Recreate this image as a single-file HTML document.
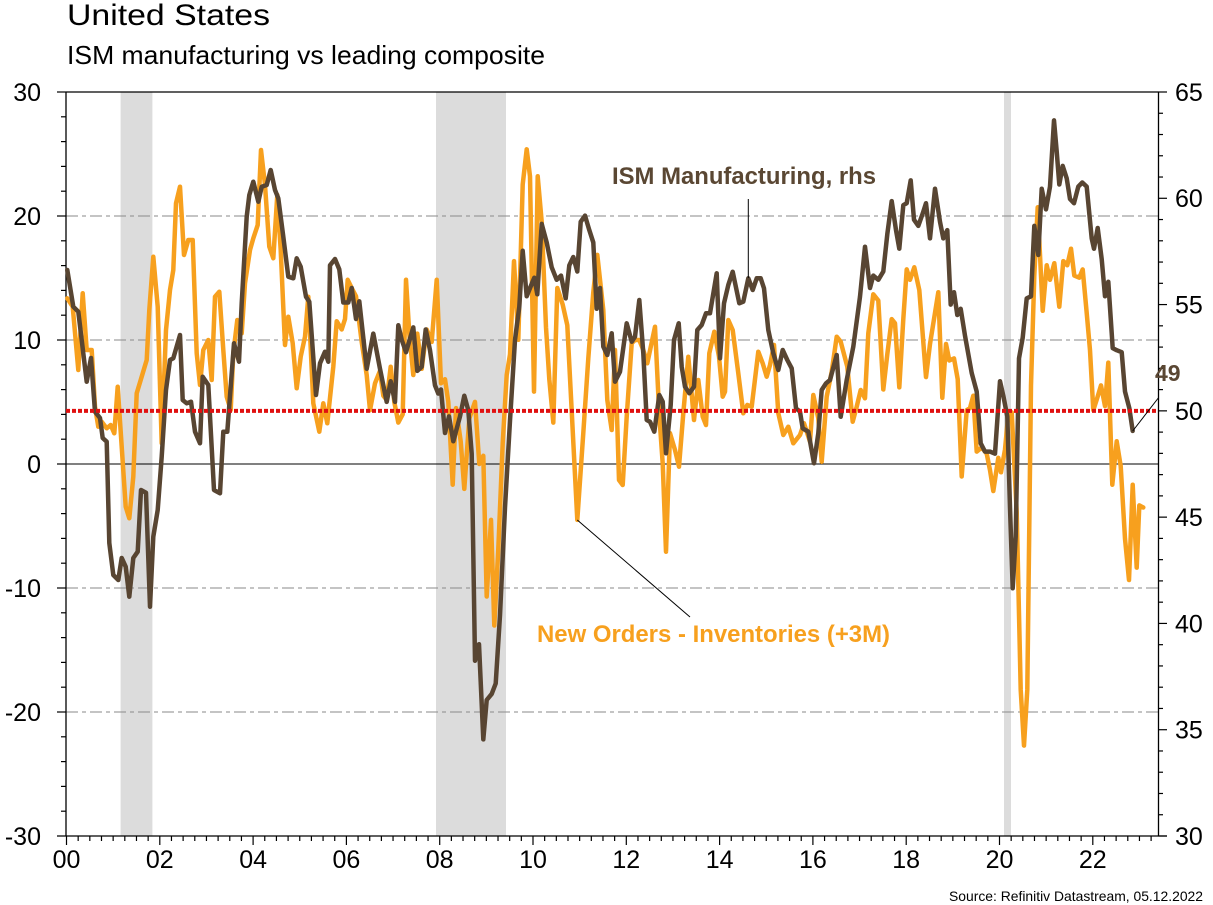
<!DOCTYPE html>
<html>
<head>
<meta charset="utf-8">
<style>
html,body{margin:0;padding:0;background:#fff;}
svg{display:block;}
text{font-family:"Liberation Sans",Arial,sans-serif;}
</style>
</head>
<body>
<svg width="1213" height="905" viewBox="0 0 1213 905" xmlns="http://www.w3.org/2000/svg">
<rect x="0" y="0" width="1213" height="905" fill="#fff"/>
<text x="67" y="25" font-size="30" fill="#000" textLength="203" lengthAdjust="spacingAndGlyphs">United States</text>
<text x="67" y="64" font-size="26" fill="#000" textLength="478" lengthAdjust="spacingAndGlyphs">ISM manufacturing vs leading composite</text>

<!-- recession bands -->
<rect x="120.6" y="92" width="31.8" height="744" fill="#dcdcdc"/>
<rect x="436" y="92" width="70" height="744" fill="#dcdcdc"/>
<rect x="1004" y="92" width="7" height="744" fill="#dcdcdc"/>

<!-- gridlines -->
<g stroke="#8a8a8a" stroke-width="1" stroke-dasharray="12,4,4,4" fill="none">
<line x1="66" y1="216" x2="1158" y2="216"/>
<line x1="66" y1="340" x2="1158" y2="340"/>
<line x1="66" y1="588" x2="1158" y2="588"/>
<line x1="66" y1="712" x2="1158" y2="712"/>
</g>
<line x1="66" y1="464" x2="1158" y2="464" stroke="#000" stroke-width="1"/>

<!-- axes frame -->
<g stroke="#000" stroke-width="1.3" fill="none">
<line x1="66" y1="92" x2="1158.5" y2="92"/>
<line x1="66" y1="92" x2="66" y2="836"/>
<line x1="1158.5" y1="92" x2="1158.5" y2="836"/>
<line x1="57" y1="836" x2="1167" y2="836"/>
</g>

<!-- left ticks -->
<g stroke="#000" stroke-width="1.2">
<line x1="57" y1="92" x2="66" y2="92"/><line x1="61" y1="116.8" x2="66" y2="116.8"/><line x1="61" y1="141.6" x2="66" y2="141.6"/><line x1="61" y1="166.4" x2="66" y2="166.4"/><line x1="61" y1="191.2" x2="66" y2="191.2"/>
<line x1="57" y1="216" x2="66" y2="216"/><line x1="61" y1="240.8" x2="66" y2="240.8"/><line x1="61" y1="265.6" x2="66" y2="265.6"/><line x1="61" y1="290.4" x2="66" y2="290.4"/><line x1="61" y1="315.2" x2="66" y2="315.2"/>
<line x1="57" y1="340" x2="66" y2="340"/><line x1="61" y1="364.8" x2="66" y2="364.8"/><line x1="61" y1="389.6" x2="66" y2="389.6"/><line x1="61" y1="414.4" x2="66" y2="414.4"/><line x1="61" y1="439.2" x2="66" y2="439.2"/>
<line x1="57" y1="464" x2="66" y2="464"/><line x1="61" y1="488.8" x2="66" y2="488.8"/><line x1="61" y1="513.6" x2="66" y2="513.6"/><line x1="61" y1="538.4" x2="66" y2="538.4"/><line x1="61" y1="563.2" x2="66" y2="563.2"/>
<line x1="57" y1="588" x2="66" y2="588"/><line x1="61" y1="612.8" x2="66" y2="612.8"/><line x1="61" y1="637.6" x2="66" y2="637.6"/><line x1="61" y1="662.4" x2="66" y2="662.4"/><line x1="61" y1="687.2" x2="66" y2="687.2"/>
<line x1="57" y1="712" x2="66" y2="712"/><line x1="61" y1="736.8" x2="66" y2="736.8"/><line x1="61" y1="761.6" x2="66" y2="761.6"/><line x1="61" y1="786.4" x2="66" y2="786.4"/><line x1="61" y1="811.2" x2="66" y2="811.2"/>
</g>

<!-- right ticks -->
<g stroke="#000" stroke-width="1.2" id="rt"></g>

<!-- bottom ticks -->
<g stroke="#000" stroke-width="1.2" id="bt"></g>

<!-- left labels -->
<g font-size="25" fill="#000" text-anchor="end">
<text x="41" y="101">30</text>
<text x="41" y="225">20</text>
<text x="41" y="349">10</text>
<text x="41" y="473">0</text>
<text x="41" y="597">-10</text>
<text x="41" y="721">-20</text>
<text x="41" y="845">-30</text>
</g>
<!-- right labels -->
<g font-size="25" fill="#000" text-anchor="start">
<text x="1175" y="101">65</text>
<text x="1175" y="207">60</text>
<text x="1175" y="313.6">55</text>
<text x="1175" y="420">50</text>
<text x="1175" y="526">45</text>
<text x="1175" y="632.4">40</text>
<text x="1175" y="738.7">35</text>
<text x="1175" y="845">30</text>
</g>
<!-- bottom labels -->
<g font-size="25" fill="#000" text-anchor="middle">
<text x="66.5" y="868">00</text>
<text x="159.8" y="868">02</text>
<text x="253.1" y="868">04</text>
<text x="346.4" y="868">06</text>
<text x="439.7" y="868">08</text>
<text x="533" y="868">10</text>
<text x="626.3" y="868">12</text>
<text x="719.6" y="868">14</text>
<text x="812.9" y="868">16</text>
<text x="906.2" y="868">18</text>
<text x="999.5" y="868">20</text>
<text x="1092.8" y="868">22</text>
</g>

<!-- orange series -->
<polyline fill="none" stroke="#f7a01e" stroke-width="4.5" stroke-linejoin="round" stroke-linecap="round" points="67.3,298.3 72.7,306.7 78.3,370 82.7,293.3 86.7,350 91.7,350 95,406.7 98.3,426.7 101.7,421.7 106.7,428.3 110.7,425 114.3,433.3 117.7,386.7 121.7,446.7 125.7,506.7 129.3,518.3 133.3,476.7 136.7,393.3 141.7,376.7 146.7,360 149.3,310 153.3,256.7 157.7,306.7 161.7,443.3 166,330 170,290 173.3,270 176,203.3 180,186.7 184,255 188.3,240 192.7,240 196.7,353.3 200,385 203.3,350 208.3,340 211.7,380 215,296.7 219.3,291.7 223.3,350 226.7,396.7 230.7,410 233.3,353.3 237.3,320 241.7,333.3 245,283.3 250,250 253.3,238.3 257.7,225 261,150 265,185 269.3,246.7 273.3,258.3 277.3,195 280.7,250 285,345 288.3,316.7 292.7,343.3 296.7,388.3 300.7,356.7 305,336.7 308.3,296.7 313.3,403.3 319.3,431.7 323.3,403.3 327.3,423.3 333.3,366.7 336.7,321.2 341.7,329.5 345,319.1 347.7,279.8 351.7,288 356,296.3 361.7,341.9 366.7,375 370,410.2 375,383.3 380,370.9 383.3,395.7 386.7,399.9 390.7,366.7 394.3,401.9 398.3,422.6 402.7,414.3 406,279.8 409.3,333.6 413.3,375 417.3,333.6 421.7,368.8 426.7,329.5 431.7,341.9 436.7,279.8 441,383.3 445,379.2 448.3,401.9 452.7,484.7 456,408.1 460.7,441.3 464.3,488.9 469.3,418.5 475,401.9 479.3,464 483.3,455.8 486.7,596.5 491,519.9 494.3,625.5 498.3,548.9 502.7,443.3 506.7,375 510,354.3 514,261.1 518.3,339.8 522.7,184.5 526.7,149.3 530,176.3 534,391.6 537.7,176.3 541.7,221.8 546,327.4 549.3,379.2 553.3,422.6 557.3,288 562.7,304.6 567.3,325.3 577.3,519.9 583.3,433 588.3,358.4 593.3,292.2 597.3,254.9 603.3,310 607.3,400 611.7,430 615,350 619,480 622.7,485 626.7,416.7 631.7,343.3 635,340 639.3,340 643.3,350 647.3,363.3 655,326.7 659.3,415 662.7,463.3 666,551.7 670,433.3 675,450 679,466.7 683.3,413.3 688.3,356.7 694,420 698.3,380 702.7,416.7 706,425 709.3,353.3 714.3,331.7 719,356.7 722.7,396.7 725,391.7 728.3,320 732.7,330 738.3,373.3 743.3,413.3 747.3,405 751.7,406.7 758.3,351.7 762.7,363.3 766.7,376.7 770,365 774,345 778.3,413.3 783.3,435 788.3,426.7 793.3,443.3 800,435 804,423.3 810,441.7 813.3,395 818.3,418.3 821.7,461.7 826.7,396.7 831.7,371.7 836.7,336.7 840.7,341.7 847.3,366.7 852.7,421.7 856.7,406.7 860.7,390 865,398.3 868.3,333.3 873.3,294.3 878.3,300.5 883.3,389.5 887.3,354.3 891.7,319.1 895,323.3 899.3,387.4 903.3,319.1 906.7,269.4 910,279.8 914.3,267.3 919.3,290.1 926,377.1 930,344 935,312.9 938.3,292.2 942.3,397.8 946,344 949.3,360.5 954,358.4 957.7,379.2 961.7,476.5 966.7,410.2 970,408.1 973.3,395.7 976.7,451.6 981.7,447.5 986.7,453.7 990,470.2 993.3,491 998.3,457.8 1001,472.3 1005,449.5 1008.3,414.3 1011.7,412.3 1016.7,511.7 1020.7,689.7 1024,745.6 1027.3,689.7 1031,385.4 1034.3,275.6 1037.7,207.3 1040,254.9 1042.7,310.8 1046.7,265.3 1050,279.8 1054.3,263.2 1059.3,306.7 1063.3,261.1 1067.3,265.3 1071,248.7 1074.3,275.6 1079.3,277.7 1082.7,269.4 1086.7,312.9 1090,350.2 1093.3,410.2 1097.3,397.8 1101,385.4 1105,406.1 1108.3,362.6 1112.3,484.7 1116.7,441.3 1120.7,466.1 1125,538.6 1129,580 1132.7,484.7 1136.7,567.6 1139.3,505.4 1143.3,507.5"/>

<!-- dark series -->
<polyline fill="none" stroke="#584532" stroke-width="4.5" stroke-linejoin="round" stroke-linecap="round" points="67.3,270 73.3,306.7 78.3,311.7 86.7,381.7 91,358 95,411.7 100,418 102.7,438 106.7,441.7 109.3,543 113.3,575 118.3,580 121.7,558 125.7,566.7 129.3,596.7 133.3,558 137.7,551.7 141,490 146,492.7 150,606.7 153.3,536.7 157.7,510 161.7,456.7 166,390 170,360 173.3,358.3 180,335 182.7,400 186.7,403.3 191,401.7 195,431.7 200,443.3 202.7,376.7 208.3,385 214,490 220,493.3 223.3,431.7 227.3,431.7 234,343.3 239,361.7 241.7,303.3 246.7,216.7 249.3,195 253.3,181.7 258.3,201.7 261.7,186.7 266.7,185 270.7,170 275,190 278.3,198.3 283.3,236.7 288.3,276.7 293.3,278.3 296.7,258.3 300.7,266.7 306,296.7 309.3,301.7 316,395 320,363.3 325,351.7 328.3,361.7 330,265.3 335,259 339.3,269.4 343.3,302.5 348.3,302.5 351.7,288 356,319 359.3,301.3 366.7,368.8 373.3,333.6 380,368.8 386.7,401.9 390.7,381.2 395,401.9 398.3,325.3 401.7,339.8 406,352.2 413.3,327.4 417.3,370.9 421.7,366.7 425.7,329.5 430,350.2 435,385.4 438.3,393.6 441,389.5 445,433 449,416.4 453.3,441.3 460,416.4 464.3,395.7 468.3,410.2 471.7,453.7 475,660.7 479,644.2 483.3,739.4 486.7,700 491.7,693.9 495.7,683.5 500,615.2 505,507.5 510,420.6 515,339.8 519.3,306.7 522.7,250.8 526.7,296.3 531.7,283.9 534.3,277.7 537.3,294.3 541.7,223.9 546.7,242.5 551.7,267.3 556.7,279.8 561,275.6 565.7,298.4 569.3,265.3 573.3,257 577.3,271.5 580.7,221.8 585,215.6 589.3,230.1 593.3,242.5 596.7,308.8 600,288 603.3,346.7 607.3,355 611.7,333.3 615,381.7 620,371.7 626.7,323.3 631.7,341.7 635,336.7 639.3,300 643.3,353.3 646.7,420 650,421.7 654.3,431.7 659.3,395 662.7,401.7 666,453.3 670.7,405 674,340 678.7,323.3 681.7,366.7 685,386.7 689.3,393.3 694,386.7 697.3,330 701.7,325 706,313.3 710,313.3 716.7,273.3 720,358.3 724,303.3 728.3,285 732.7,271.7 739.3,303.3 743.3,301.7 748.3,278.3 752.7,290 756.7,278.3 760.7,278.3 764,288.3 768.3,330 773.3,353.3 778.3,370 782.7,350 787.3,360 791.7,368.3 796,408.3 800,411.7 802.7,428.3 808.3,431.7 814,463.3 818.3,433.3 821.7,390 826,383.3 830,380 836.7,355 840.7,416.7 846.7,380 853.3,346.7 860,296.7 865,246.7 870,288 873.3,275.6 878.3,279.8 883.3,271.5 887.3,234.2 891.7,201.1 896,230.1 899.3,248.7 903.3,205.2 906.7,203.2 910.7,180.4 914,219.7 918.3,225.9 922.7,213.5 926,203.2 930,238.4 935,188.7 940,221.8 943.3,238.4 947.3,230.1 950.7,304.6 954,292.2 957.3,315 960.7,308.8 965,335.7 971.7,373 976.7,391.6 980.7,443.3 985,451.6 990,451.6 995,453.7 1000,381.2 1003.3,395.7 1007.3,416.4 1010,507.5 1012.7,588.3 1015.7,536.5 1019,358.4 1022.7,337.7 1026.7,298.4 1031,296.3 1034.3,225.9 1038.3,254.9 1041.7,188.7 1046,209.4 1050,186.6 1054,120.4 1056.7,151.4 1059.3,184.5 1062.7,165.9 1066.7,178.3 1070,199 1074,203.2 1078.3,186.6 1082.3,182.5 1086.7,186.6 1091.7,238.4 1094,248.7 1097.7,228 1101.7,259.1 1105,296.3 1108.3,281.8 1112.7,348.1 1116.7,350.2 1121.7,352.2 1125,391.6 1129.3,408.1 1132.7,430.9"/>

<!-- red 50 line -->
<line x1="66" y1="410.9" x2="1158" y2="410.9" stroke="#e01010" stroke-width="4" stroke-dasharray="4,2"/>

<!-- annotations -->
<line x1="748.3" y1="199" x2="748.3" y2="278" stroke="#000" stroke-width="1"/>
<text x="612" y="184" font-size="24" font-weight="bold" fill="#5a4733" textLength="264" lengthAdjust="spacingAndGlyphs">ISM Manufacturing, rhs</text>
<line x1="577.3" y1="520" x2="690" y2="617" stroke="#000" stroke-width="1"/>
<text x="537" y="642" font-size="24" font-weight="bold" fill="#f7a01e" textLength="353" lengthAdjust="spacingAndGlyphs">New Orders - Inventories (+3M)</text>
<line x1="1132.7" y1="431" x2="1158.3" y2="398" stroke="#000" stroke-width="1"/>
<text x="1155" y="381" font-size="23" font-weight="bold" fill="#5a4733">49</text>

<text x="1203" y="901" font-size="14" fill="#000" text-anchor="end" textLength="254" lengthAdjust="spacingAndGlyphs">Source: Refinitiv Datastream, 05.12.2022</text>

<script>
(function(){
  var ns="http://www.w3.org/2000/svg";
  var rt=document.getElementById("rt");
  for(var v=30;v<=65;v++){
    var y=836-(v-30)*744/35;
    var l=document.createElementNS(ns,"line");
    l.setAttribute("x1",1158.5);l.setAttribute("x2",v%5==0?1167:1163);
    l.setAttribute("y1",y);l.setAttribute("y2",y);
    rt.appendChild(l);
  }
  var bt=document.getElementById("bt");
  for(var q=0;q<=93;q++){
    var x=66.5+q*93.3/8;
    if(x>1158)break;
    var l=document.createElementNS(ns,"line");
    l.setAttribute("x1",x);l.setAttribute("x2",x);
    l.setAttribute("y1",836);l.setAttribute("y2",q%8==0?845:841);
    bt.appendChild(l);
  }
})();
</script>
</svg>
</body>
</html>
